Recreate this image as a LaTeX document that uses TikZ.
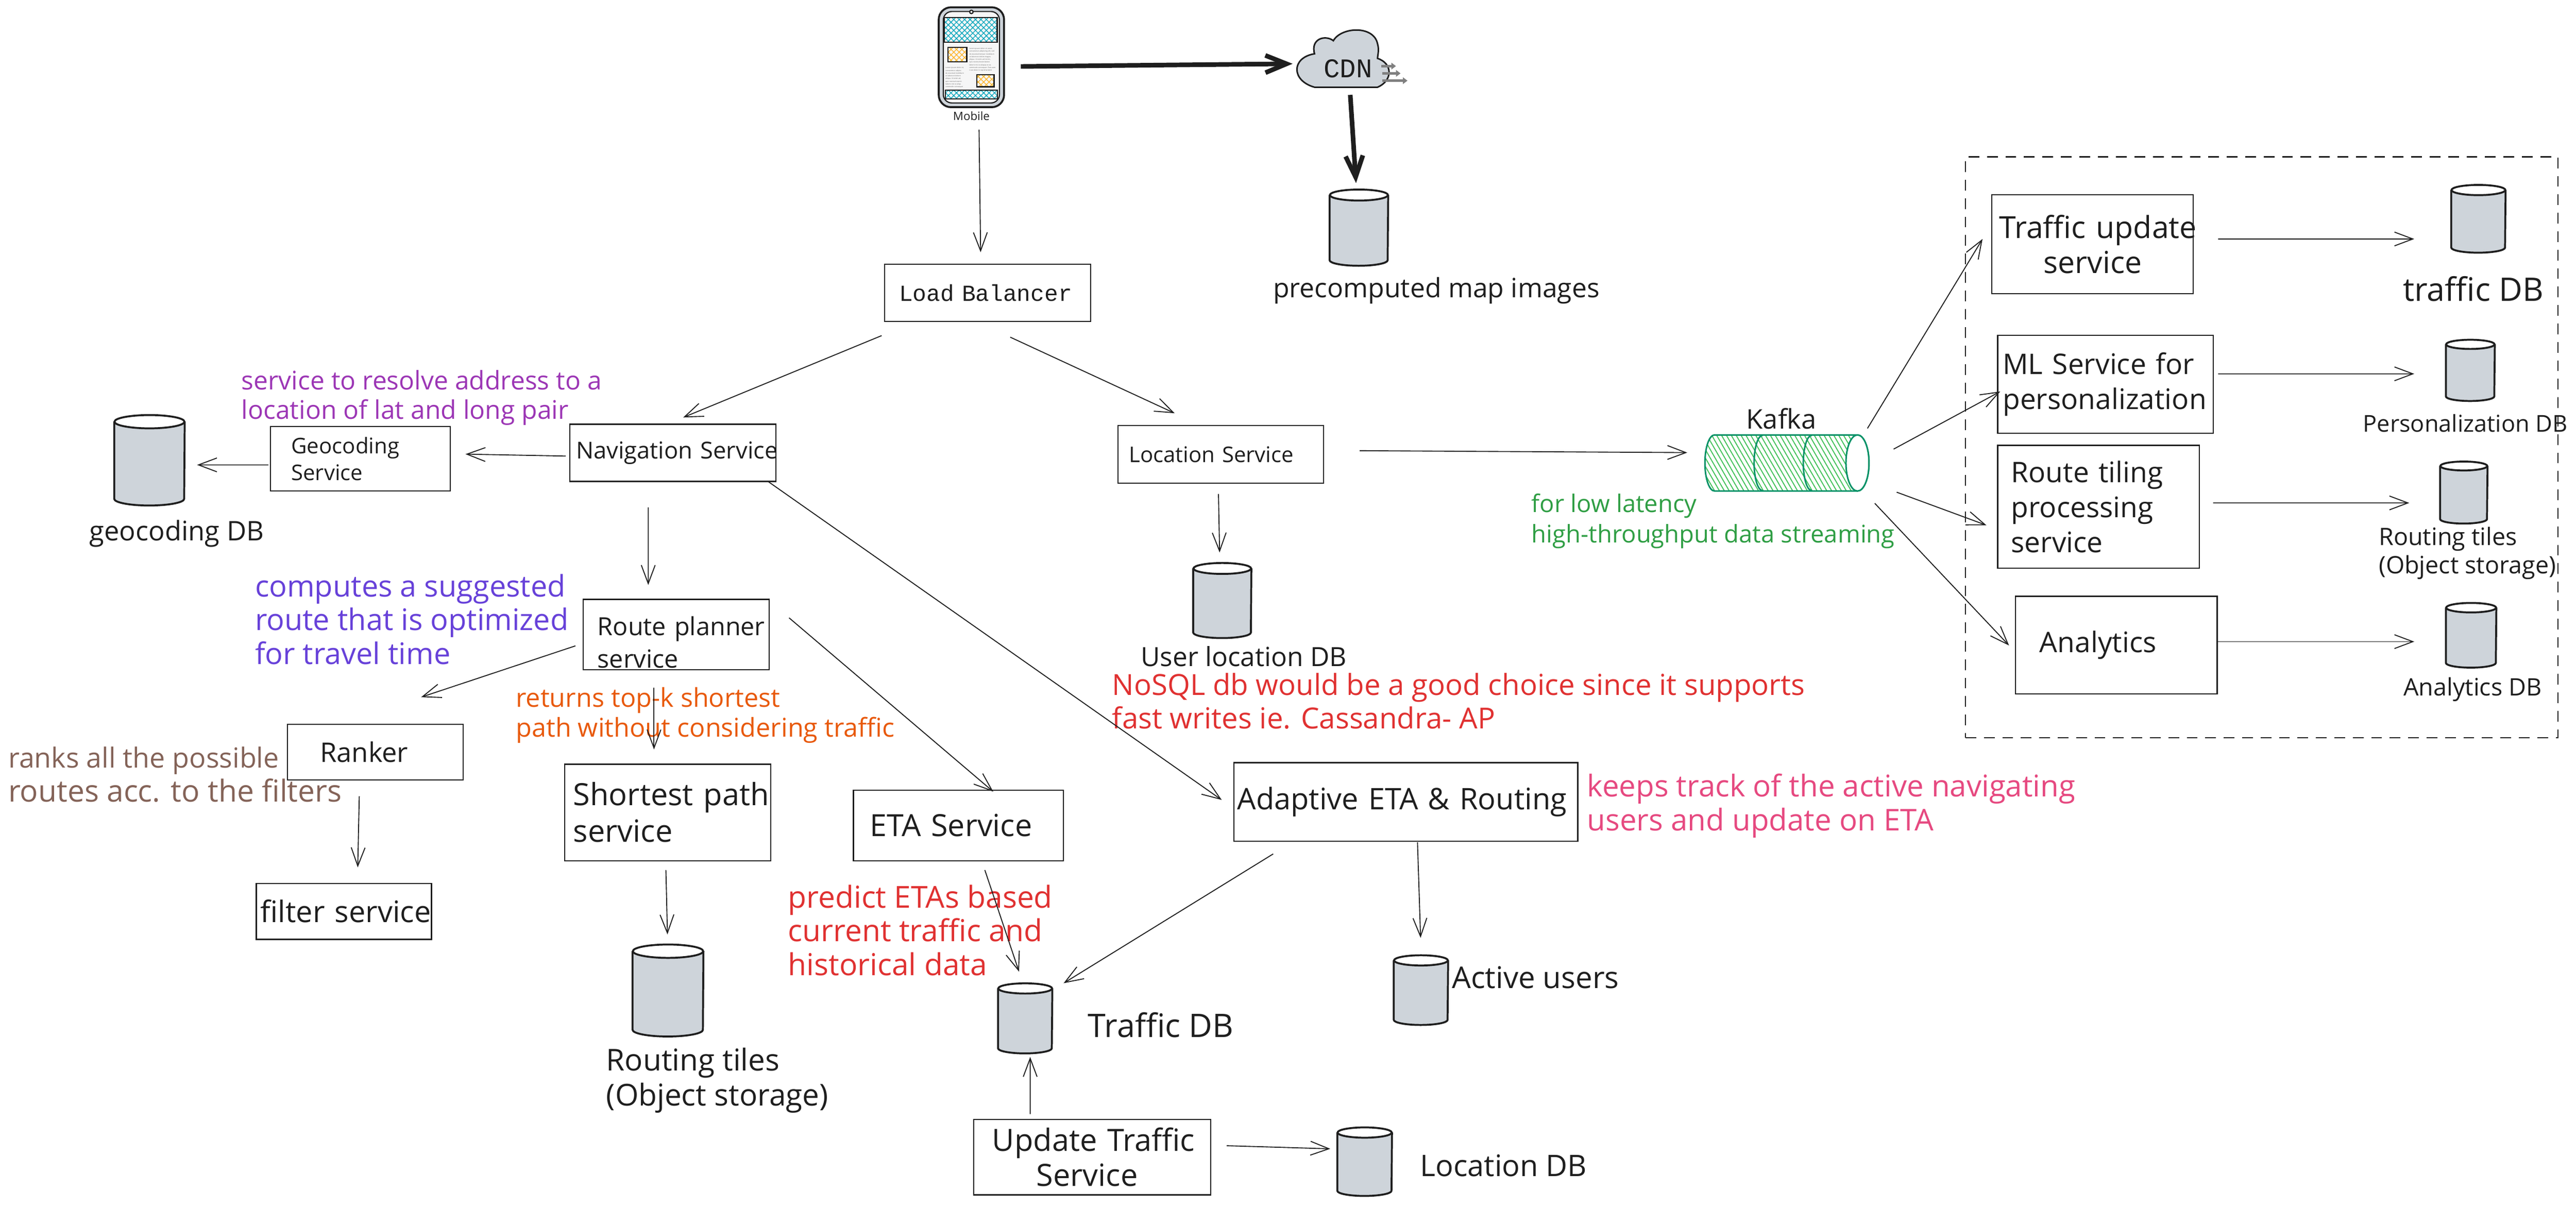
\documentclass[tikz,border=0pt]{standalone}
\usepackage{fontspec}
\setmainfont{Open Sans}
\setmonofont{Liberation Mono}
\usetikzlibrary{arrows.meta,patterns.meta}
\definecolor{ink}{HTML}{1E1E1E}
\definecolor{dbgray}{HTML}{CED4DA}
\definecolor{notepurple}{HTML}{9C36B5}
\definecolor{noteindigo}{HTML}{6741D9}
\definecolor{noteorange}{HTML}{E8590C}
\definecolor{notebrown}{HTML}{846358}
\definecolor{notered}{HTML}{E03131}
\definecolor{notegreen}{HTML}{2F9E44}
\definecolor{notepink}{HTML}{E64980}
\definecolor{kafkagreen}{HTML}{099268}
\definecolor{kafkahatch}{HTML}{40C057}
\definecolor{phoneblue}{HTML}{15AABF}
\definecolor{phoneorange}{HTML}{FFB62E}
\newcommand{\ind}[1]{\hspace*{#1cm}}
\tikzset{
fs/.style 2 args={font=\fontsize{#1}{#2}\selectfont},
svcbox/.style n args={2}{draw=ink,text=ink,line width=.03cm,inner sep=0,text width=#1cm,minimum height=#2cm,align=left},
dbbody/.style={inner sep=0},
dbedge/.style={draw=ink,line width=.05cm},
dblabel/.style={text=ink,inner sep=0,align=left},
note/.style={anchor=west,inner sep=0,align=left},
kafkaedge/.style={draw=kafkagreen,line width=.04cm},
phonefill/.style={pattern={Hatch[angle=45,distance=.1cm,line width=.02cm]},pattern color=#1,draw=ink,line width=.03cm},
flow/.style={draw=ink,line width=.025cm,-{Straight Barb[length=.48cm,width=.36cm]}},
thickflow/.style={draw=ink,line width=.12cm,-{Straight Barb[length=.55cm,width=.45cm]}},
cdnflow/.style={draw=gray,line width=.07cm,-{Triangle[length=.12cm,width=.17cm]}},
phonetext/.style={inner sep=0,anchor=north west,align=left,text=ink!70,font=\fontsize{1.3}{2}\selectfont}
}
\newcommand{\dbcylinder}[5]{
\pgfmathsetmacro{\dbrx}{#4/2}
\pgfmathsetmacro{\dbry}{#4*.095}
\node[dbbody,minimum width=#4cm,minimum height=#5cm] (#1) at (#2,#3) {};
\draw[dbedge,fill=dbgray] ([yshift=-\dbry cm]#1.north west) -- ([yshift=\dbry cm]#1.south west) arc (180:360:\dbrx cm and \dbry cm) -- ([yshift=-\dbry cm]#1.north east);
\draw[dbedge,fill=white] ([yshift=-\dbry cm]#1.north) ellipse (\dbrx cm and \dbry cm);
}
\begin{document}
\begin{tikzpicture}
\useasboundingbox (0,0) rectangle (67.04,-31.41);
\node[draw=ink,line width=.035cm,dashed,dash pattern=on .28cm off .2cm,minimum width=15.42cm,minimum height=15.12cm,inner sep=0] (pipeline) at (58.86,-11.64) {};
\node[draw=ink,line width=.05cm,fill=dbgray,rounded corners=.32cm,minimum width=1.7cm,minimum height=2.6cm,inner sep=0] (mobile) at (25.28,-1.49) {};
\node[draw=ink,line width=.03cm,fill=gray!7,rounded corners=.22cm,minimum width=1.46cm,minimum height=2.38cm,inner sep=0] (screen) at (25.28,-1.49) {};
\node[draw=ink,line width=.03cm,fill=white,circle,minimum size=.09cm,inner sep=0] (notch) at (25.28,-.31) {};
\draw[phonefill=phoneblue] (24.57,-.46) rectangle (25.95,-1.1);
\draw[phonefill=phoneorange] (24.67,-1.23) rectangle (25.16,-1.61);
\draw[phonefill=phoneorange] (25.42,-1.94) rectangle (25.87,-2.26);
\draw[phonefill=phoneblue] (24.6,-2.35) rectangle (25.96,-2.57);
\node[phonetext] (phonetextr) at (25.22,-1.24) {Lorem ipsum dolor sit amet,\\consectetur adipiscing elit, sed\\do eiusmod tempor incididunt\\ut labore et dolore magna\\aliqua. Ut enim ad minim,\\quis nostrud exercitation\\laboris nisi ut aliquip ex ea\\commodo consequat. Duis aute\\irure dolor in reprehenderit};
\node[phonetext] (phonetextl) at (24.6,-1.74) {Lorem ipsum dolor sit,\\consectetur adipisc\\do eiusmod incididunt\\ut labore et dolore\\aliqua. Ut enim ad,\\quis nostrud exercit\\laboris nisi ut aliqu\\commodo consequat};
\node[dblabel,fs={8.5}{10}] (mobiletext) at (25.28,-3.02) {Mobile};
\fill[dbgray,draw=ink,line width=.04cm] (34.21,-2.27) .. controls (33.6,-2.1) and (33.6,-1.5) .. (34.21,-1.4) .. controls (34.1,-1.0) and (34.5,-.9) .. (34.7,-1.06) .. controls (34.9,-.7) and (35.75,-.65) .. (35.85,-1.14) .. controls (35.9,-1.3) and (35.85,-1.45) .. (35.85,-1.52) .. controls (36.25,-1.65) and (36.25,-2.1) .. (35.85,-2.27) -- cycle;
\node[inner sep=0,text=ink,font=\ttfamily\fontsize{20}{24}\selectfont] (cdn) at (35.08,-1.78) {CDN};
\draw[cdnflow] (35.94,-1.72) -- (36.33,-1.72);
\draw[cdnflow] (35.97,-1.91) -- (36.45,-1.91);
\draw[cdnflow] (35.97,-2.1) -- (36.63,-2.1);
\dbcylinder{mapdb}{35.365}{-5.925}{1.51}{1.97}
\node[dblabel,fs={19.7}{25}] (maptext) at (37.38,-7.56) {precomputed map images};
\node[svcbox={5.36}{1.49},font=\ttfamily\fontsize{17}{20}\selectfont] (lb) at (25.7,-7.625) {\ind{.38}Load Balancer};
\node[svcbox={4.68}{1.68},fs={16}{20}] (geocode) at (9.38,-11.94) {\ind{.54}Geocoding\\\ind{.54}Service};
\node[svcbox={5.36}{1.49},fs={17.3}{20}] (nav) at (17.51,-11.785) {\ind{.16}\mbox{Navigation Service}};
\node[svcbox={5.35}{1.5},fs={16}{20}] (loc) at (31.765,-11.83) {\ind{.29}Location Service};
\node[svcbox={4.84}{1.83},fs={18.5}{24}] (route) at (17.6,-16.515) {\ind{.37}\rule{0pt}{.9cm}\mbox{Route planner}\\\ind{.37}service};
\node[svcbox={4.57}{1.45},fs={20}{25}] (ranker) at (9.765,-19.575) {\ind{.85}Ranker};
\node[svcbox={4.56}{1.46},fs={22}{26}] (filter) at (8.95,-23.72) {\ind{.11}\mbox{filter service}};
\node[svcbox={5.37}{2.51},fs={22.7}{27}] (shortest) at (17.375,-21.145) {\ind{.23}\mbox{Shortest path}\\\ind{.23}service};
\node[svcbox={5.46}{1.83},fs={22.6}{26}] (eta) at (24.94,-21.485) {\ind{.43}ETA Service};
\node[svcbox={8.95}{2.05},fs={22}{26}] (adapt) at (36.585,-20.875) {\ind{.09}Adaptive ETA \& Routing};
\node[svcbox={6.17}{1.96},fs={22.7}{26}] (update) at (28.425,-30.12) {\ind{.48}Update Traffic\\\ind{1.63}Service};
\node[svcbox={5.25}{2.57},fs={22.5}{26}] (tus) at (54.455,-6.355) {\ind{.2}\mbox{Traffic update}\\\ind{1.35}service};
\node[svcbox={5.61}{2.55},fs={21}{26}] (ml) at (54.795,-10.005) {\ind{.13}ML Service for\\\ind{.13}personalization};
\node[svcbox={5.25}{3.2},fs={21}{26}] (rtp) at (54.615,-13.19) {\ind{.35}Route tiling\\\ind{.35}processing\\\ind{.35}service};
\node[svcbox={5.25}{2.54},fs={21}{26}] (ana) at (55.075,-16.79) {\ind{.63}Analytics};
\dbcylinder{geodb}{3.89}{-11.98}{1.82}{2.34}
\dbcylinder{userdb}{31.81}{-15.63}{1.5}{1.94}
\dbcylinder{tilesdb}{17.385}{-25.78}{1.83}{2.38}
\dbcylinder{trafficdb}{26.68}{-26.505}{1.4}{1.81}
\dbcylinder{activedb}{36.98}{-25.77}{1.4}{1.8}
\dbcylinder{locdb}{35.515}{-30.235}{1.41}{1.77}
\dbcylinder{tusdb}{64.5}{-5.695}{1.4}{1.75}
\dbcylinder{persdb}{64.29}{-9.64}{1.26}{1.58}
\dbcylinder{rtpdb}{64.12}{-12.82}{1.22}{1.6}
\dbcylinder{anadb}{64.31}{-16.535}{1.3}{1.67}
\node[dblabel,fs={20}{25}] (geotext) at (4.6,-13.89) {geocoding DB};
\node[dblabel,fs={19.6}{23}] (usertext) at (32.37,-17.09) {User location DB};
\node[dblabel,fs={22.3}{26},anchor=west] (tilestext) at (15.77,-28.12) {Routing tiles\\(Object storage)};
\node[dblabel,fs={24}{25},anchor=west] (traffictext) at (28.31,-26.68) {Traffic DB};
\node[dblabel,fs={22.2}{25},anchor=west] (activetext) at (37.78,-25.44) {Active users};
\node[dblabel,fs={22}{26},anchor=west] (loctext) at (36.95,-30.34) {Location DB};
\node[dblabel,fs={24}{25}] (tustext) at (64.37,-7.52) {traffic DB};
\node[dblabel,fs={17.2}{21}] (perstext) at (64.16,-11.02) {Personalization DB};
\node[dblabel,fs={17.8}{21},anchor=west] (rtptext) at (61.9,-14.4) {Routing tiles\\(Object storage)};
\node[dblabel,fs={17.8}{21}] (anatext) at (64.35,-17.95) {Analytics DB};
\node[dblabel,fs={20}{25}] (kafkatext) at (46.36,-10.9) {Kafka};
\node[inner sep=0,minimum width=4.37cm,minimum height=1.48cm] (kafka) at (46.55,-12.04) {};
\draw[kafkaedge,pattern={Lines[angle=-60,distance=.11cm,line width=.025cm]},pattern color=kafkahatch] (44.62,-11.32) -- (48.34,-11.32) arc (90:-90:.3 and .73) -- (44.62,-12.78) arc (270:90:.25 and .73) -- cycle;
\draw[kafkaedge,fill=white] (48.34,-12.05) ellipse (.3 and .73);
\draw[kafkaedge] (45.87,-11.33) arc (90:270:.22 and .72);
\draw[kafkaedge] (47.15,-11.33) arc (90:270:.22 and .72);
\node[note,text=notepurple,fs={19}{22}] (geonote) at (6.28,-10.35) {service to resolve address to a\\location of lat and long pair};
\node[note,text=noteindigo,fs={22}{25}] (routenote) at (6.63,-16.12) {computes a suggested\\route that is optimized\\for travel time};
\node[note,text=noteorange,fs={19.2}{22}] (topknote) at (13.42,-18.62) {returns top-k shortest\\path without considering traffic};
\node[note,text=notebrown,fs={22.4}{25}] (ranknote) at (.21,-20.16) {{\fontsize{20.5}{25}\selectfont ranks all the possible}\\routes acc. to the filters};
\node[note,text=notered,fs={21.5}{25}] (nosqlnote) at (28.94,-18.25) {NoSQL db would be a good choice since it supports\\fast writes ie. Cassandra- AP};
\node[note,text=notegreen,fs={18}{22.5}] (kafkanote) at (39.85,-13.57) {for low latency\\high-throughput data streaming};
\node[note,text=notered,fs={22.4}{25}] (etanote) at (20.5,-24.21) {predict ETAs based\\current traffic and\\historical data};
\node[note,text=notepink,fs={22.2}{25}] (adaptnote) at (41.3,-20.97) {keeps track of the active navigating\\users and update on ETA};
\draw[thickflow] ([shift={(.41,-.24)}]mobile.east) -- ([shift={(-1.44,.12)}]cdn.center);
\draw[thickflow] ([shift={(.06,-.69)}]cdn.center) -- ([shift={(-.075,1.16)}]mapdb.center);
\draw[flow] ([shift={(.2,-.56)}]mobile.south) -- ([shift={(-.18,.3)}]lb.north);
\draw[flow] ([shift={(-.06,-.35)}]lb.south west) -- ([shift={(.27,.16)}]nav.north);
\draw[flow] ([shift={(.59,-.39)}]lb.south) -- ([shift={(-1.195,.31)}]loc.north);
\draw[flow] ([shift={(-.09,-.085)}]nav.west) -- ([shift={(.38,.12)}]geocode.east);
\draw[flow] ([shift={(-.04,-.16)}]geocode.west) -- ([shift={(1.24,-.12)}]geodb.center);
\draw[flow] ([shift={(-.64,-.66)}]nav.south) -- ([shift={(-.73,.36)}]route.north);
\draw[flow] ([shift={(-.24,.03)}]nav.south east) -- ([shift={(-.3,.055)}]adapt.west);
\draw[flow] ([shift={(-.19,-.295)}]route.west) -- ([shift={(1.195,.69)}]ranker.north);
\draw[flow] ([shift={(-.58,-.45)}]route.south) -- ([shift={(-.355,.37)}]shortest.north);
\draw[flow] ([shift={(.5,.435)}]route.east) -- ([shift={(.91,-.05)}]eta.north);
\draw[flow] ([shift={(-.415,-.41)}]ranker.south) -- ([shift={(.36,.4)}]filter.north);
\draw[flow] ([shift={(-.045,-.23)}]shortest.south) -- ([shift={(-.015,1.46)}]tilesdb.center);
\draw[flow] ([shift={(.69,-.23)}]eta.south) -- ([shift={(-.16,1.215)}]trafficdb.center);
\draw[flow] ([shift={(1.04,-.31)}]adapt.south west) -- ([shift={(1,.915)}]trafficdb.center);
\draw[flow] ([shift={(.305,-.01)}]adapt.south) -- ([shift={(-.01,1.36)}]activedb.center);
\draw[flow] ([shift={(-1.615,.13)}]update.north) -- ([shift={(.13,-1.005)}]trafficdb.center);
\draw[flow] ([shift={(.4,.3)}]update.east) -- ([shift={(-.895,.335)}]locdb.center);
\draw[flow] ([shift={(-.055,-.26)}]loc.south) -- ([shift={(-.07,1.25)}]userdb.center);
\draw[flow] ([shift={(.93,.1)}]loc.east) -- ([shift={(-2.64,.26)}]kafka.center);
\draw[flow] ([shift={(2.05,.89)}]kafka.center) -- ([shift={(-.22,.135)}]tus.west);
\draw[flow] ([shift={(2.73,.35)}]kafka.center) -- ([shift={(.08,-.185)}]ml.west);
\draw[flow] ([shift={(2.81,-.77)}]kafka.center) -- ([shift={(-.28,-.48)}]rtp.west);
\draw[flow] ([shift={(2.24,-1.06)}]kafka.center) -- ([shift={(-.15,-.01)}]ana.west);
\draw[flow] ([shift={(.63,.135)}]tus.east) -- ([shift={(-1.67,-.525)}]tusdb.center);
\draw[flow] ([shift={(.11,.275)}]ml.east) -- ([shift={(-1.46,-.09)}]persdb.center);
\draw[flow] ([shift={(.34,.1)}]rtp.east) -- ([shift={(-1.42,-.27)}]rtpdb.center);
\draw[flow] ([shift={(0,.09)}]ana.east) -- ([shift={(-1.48,-.165)}]anadb.center);
\end{tikzpicture}
\end{document}
